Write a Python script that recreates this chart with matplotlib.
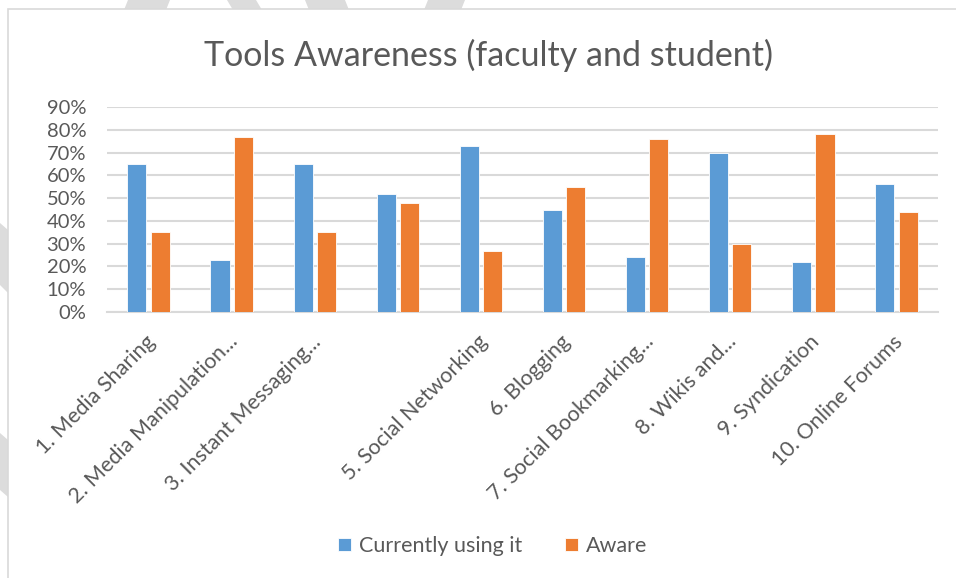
import numpy as np
import matplotlib.pyplot as plt
import matplotlib.transforms as mtransforms
from matplotlib.patches import Polygon, Rectangle

plt.rcParams['font.family'] = ['Lato', 'DejaVu Sans']

categories = ['1. Media Sharing', '2. Media Manipulation...', '3. Instant Messaging...',
              '', '5. Social Networking', '6. Blogging', '7. Social Bookmarking...',
              '8. Wikis and...', '9. Syndication', '10. Online Forums']
using = [65, 23, 65, 52, 73, 45, 24, 70, 22, 56]
aware = [35, 77, 35, 48, 27, 55, 76, 30, 78, 44]
series_names = ['Currently using it', 'Aware']
yticks = [0, 10, 20, 30, 40, 50, 60, 70, 80, 90]

W, H = 956, 578
fig = plt.figure(figsize=(W / 100, H / 100), dpi=100)
fig.patch.set_facecolor('white')

# watermark shapes behind the chart (pixel coords, y from top)
shapes = [
    [(128, 0), (170, 0), (166, 10), (124, 10)],
    [(227, 0), (256, 0), (262, 10), (233, 10)],
    [(305, 0), (345, 0), (349, 10), (309, 10)],
    [(428, 0), (465, 0), (461, 10), (424, 10)],
    [(0, 223), (8, 230), (8, 293), (0, 285)],
    [(0, 433), (8, 440), (8, 497), (0, 490)],
]
for s in shapes:
    pts = [(x / W, 1 - y / H) for x, y in s]
    fig.patches.append(Polygon(pts, closed=True, transform=fig.transFigure,
                               facecolor='#dcdcdc', edgecolor='none', zorder=0))
# chart frame
fig.patches.append(Rectangle((8 / W, -0.1), 1.2, 1 - 9 / H + 0.1, transform=fig.transFigure,
                             facecolor='white', edgecolor='#d9d9d9', linewidth=1.2, zorder=1))

ax = fig.add_axes([107 / W, 1 - 312 / H, (938 - 107) / W, (312 - 107) / H])
ax.set_facecolor('none')
ax.set_zorder(2)

x = np.arange(len(categories))
bw = 0.23
gap = 0.05
ax.bar(x - (bw + gap) / 2, using, bw, color='#5B9BD5', edgecolor='white', linewidth=0.6,
       label=series_names[0], zorder=3)
ax.bar(x + (bw + gap) / 2, aware, bw, color='#ED7D31', edgecolor='white', linewidth=0.6,
       label=series_names[1], zorder=3)

ax.set_xlim(-0.5, len(categories) - 0.5)
ax.set_ylim(0, 90)
ax.set_yticks(yticks)
ax.set_yticklabels([f'{v}%' for v in yticks])
ax.yaxis.grid(True, color='#d9d9d9', linewidth=1.5, zorder=0)
ax.set_axisbelow(True)
for sp in ['top', 'right', 'left']:
    ax.spines[sp].set_visible(False)
ax.spines['bottom'].set_color('#d9d9d9')
ax.spines['bottom'].set_linewidth(1.5)
ax.tick_params(axis='both', length=0, labelcolor='#595959')
ax.tick_params(axis='y', pad=15, labelsize=14.5)
ax.set_xticks(x)
ax.set_xticklabels(categories, rotation=45, ha='right', rotation_mode='anchor')
ax.tick_params(axis='x', pad=14, labelsize=15.5)
shift = mtransforms.ScaledTranslation(-4 / 100, 0, fig.dpi_scale_trans)
for lab in ax.get_xticklabels():
    lab.set_transform(lab.get_transform() + shift)

fig.text(488 / W, 1 - 55 / H, 'Tools Awareness (faculty and student)', ha='center', va='center',
         fontsize=24.5, color='#595959')

leg = fig.legend(loc='center', bbox_to_anchor=(493 / W, 1 - 546 / H), ncol=2, frameon=False,
                 fontsize=15.5, handlelength=0.56, handleheight=0.56, handletextpad=0.4,
                 columnspacing=2.0)
for t in leg.get_texts():
    t.set_color('#595959')

fig.savefig('out.png', dpi=100)
